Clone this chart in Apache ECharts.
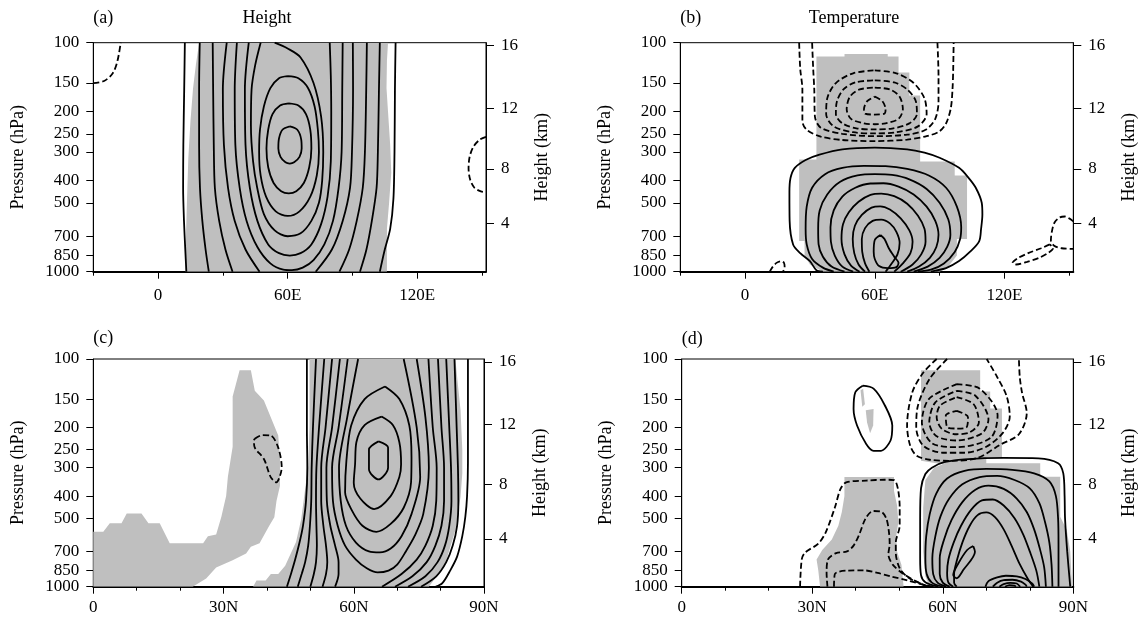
<!DOCTYPE html>
<html>
<head>
<meta charset="utf-8">
<script src="https://cdn.jsdelivr.net/npm/echarts@6/dist/echarts.min.js"></script>
<style>
html, body { margin: 0; padding: 0; background: #fff; }
#chart { width: 1139px; height: 618px; }
</style>
</head>
<body>
<div id="chart"></div>
<script>
// axis ticks / labels (pressure labels split over two overlaid axes so close ones never collide)
const pressureTicksA = [100, 200, 300, 500, 850]
const pressureTicksB = [150, 250, 400, 700, 1000]
const heightTicks = [4, 8, 12, 16]
const lonMajor = [0, 60, 120]
const lonLabels = ['0', '60E', '120E']
const lonMinor = [-30, 30, 90, 150]
const latMajor = [0, 30, 60, 90]
const latLabels = ['0', '30N', '60N', '90N']
const latMinor = [10, 20, 40, 50, 70, 80]

// (a) Height, lon-pressure  [lon, hPa]
const aShade = [
  [[19,100],[17.5,125],[16.2,158],[15,220],[14,320],[13.5,450],[13,650],[12.8,850],[12.7,1000],
   [106,1000],[106,850],[106,650],[107,500],[108,370],[107.5,280],[106.5,200],[105.8,158],[106,120],[106.5,100]]
]
const aSolid = [
  [[12.4,100],[12.1,160],[11.7,280],[11.6,430],[12,600],[12.6,800],[13.1,1000]],
  [[110,100],[109.7,160],[109.5,300],[109,480],[107.5,650],[105,800],[102.7,1000]],
  [[19.3,100],[19,160],[19,280],[19.4,430],[20.5,600],[22,800],[23.5,1000]],
  [[102.7,100],[102.3,160],[101.8,300],[101.2,430],[99,600],[96.5,800],[93.5,1000]],
  [[25.3,100],[25.5,160],[25.8,280],[26.3,430],[28.3,600],[31.2,800],[34.5,1000]],
  [[96.7,100],[96.4,160],[95.8,300],[94.8,430],[92,600],[88.5,800],[84,1000]],
  [[31.8,100],[30,160],[30.5,280],[32.4,430],[35.5,600],[40.5,800],[47,1000]],
  [[90.2,100],[90.3,160],[89.8,300],[88.9,430],[85.5,600],[80.5,800],[73,1000]],
  [[36.5,100],[35.5,160],[35.8,280],[37.8,430],[41,600],[46,780],[52,920],[58,980],[62,985],[67,960],[72,890],[77,760],[81,600],[83.6,430],[85,300],[85.3,160],[85.5,100]],
  [[42,100],[40.2,160],[40.5,280],[42.5,430],[46,600],[51,760],[56,830],[61,850],[66,830],[71,760],[75.5,620],[78.5,470],[80,330],[80.2,200],[80,140],[79.5,100]],
  [[47.5,100],[45,125],[43.3,160],[43,230],[44,330],[45.9,430],[49,560],[54,660],[60,700],[66,680],[71,600],[74.5,500],[76,400],[76.5,300],[75.5,210],[72,150],[66,116],[60,106],[54,100]],
  [[60,140],[65,143],[69.5,158],[72.5,190],[74,240],[74.5,300],[73.5,380],[70.5,470],[65.5,545],[60,571],[54.5,545],[50,470],[47.5,380],[46.8,300],[47.2,240],[49,190],[52,158],[56,143],[60,140]],
  [[60.5,184],[65,188],[68.5,205],[70.5,240],[71,290],[70,350],[67.5,410],[64,445],[60.5,455],[57,445],[53.5,410],[51,350],[50.2,290],[51,240],[53,205],[56.5,188],[60.5,184]],
  [[61,232],[64.5,240],[66.3,265],[66.5,290],[65.5,315],[63,333],[61,337],[59,333],[56.7,315],[55.7,290],[56,262],[57.6,240],[61,232]]
]
const aDashed = [
  [[-30,150],[-25,147],[-21,136],[-18.8,120],[-17.3,100]],
  [[151.875,258],[149,265],[146,285],[144.3,315],[143.8,353],[144.5,395],[146.5,430],[149.5,446],[151.875,449]]
]

// (b) Temperature, lon-pressure
const bShade = [
  [[33,115],[46,115],[46,112],[66,112],[66,115],[71,115],[71,135],[76,135],[76,170],[81,170],[81,330],[97,330],[97,380],
   [102.7,380],[102.7,720],[98,720],[98,850],[94,950],[90,1000],[36,1000],[30,930],[27.5,850],[27.5,735],[25,735],[25,324],[33,324]]
]
const bSolid = [
  [[36,1000],[33,985],[30,900],[25.5,830],[22.2,760],[20.6,600],[20.5,450],[21,390],[23,352],[28,325],[34.4,308],[45,292],[60,287],[75,292],[83,302],[90,318],[99,352],[103.5,390],[106.8,431],[109.5,500],[109.8,563],[109.2,650],[108.3,737],[104,820],[99,899],[93,965],[88,990],[86,1000]],
  [[41,1000],[36,960],[31,880],[28.5,760],[28,650],[28.5,520],[31,430],[37,375],[45,352],[55,345],[65,346],[75,356],[85,380],[93,430],[98,520],[100,640],[99.5,720],[97,820],[92,920],[86,980],[80,1000]],
  [[46,1000],[40,950],[36,860],[34,760],[33.8,650],[34.5,540],[38,460],[44,405],[52,380],[60,375],[68,378],[76,395],[84,435],[90,500],[94,590],[95,690],[93.5,780],[90,870],[84.5,950],[78,1000]],
  [[50,1000],[45,950],[41.5,850],[39.7,740],[39.5,640],[41,540],[45,470],[51,430],[58,412],[64,411],[71,425],[78,460],[84,520],[88,600],[89.5,690],[88.5,780],[85.5,870],[80.5,950],[75,1000]],
  [[53,1000],[49,940],[46,840],[44.6,720],[45.3,620],[48,550],[52.5,495],[58,462],[63,456],[69,468],[75,505],[80,570],[83,650],[83.5,740],[81.5,840],[77.5,930],[72,1000]],
  [[55.5,1000],[52.5,930],[50.5,830],[49.8,720],[50.8,630],[54,565],[58.5,525],[62.5,518],[67,535],[72,585],[76,660],[77.5,740],[76.5,830],[73,920],[69,1000]],
  [[57.5,1000],[55.5,920],[54.2,820],[54,720],[55.5,645],[59,600],[63,592],[67,615],[70,670],[71.5,750],[70.5,840],[67.5,930],[65,1000]],
  [[62.6,691],[64.5,720],[66.5,790],[69,860],[71,915],[70,955],[66,965],[62,945],[60,880],[59.5,818],[60,727],[62.6,691]]
]
const bDashed = [
  [[25,100],[25.5,130],[26.5,160],[26.5,220],[28.5,240],[35,257],[45,266],[60,269],[75,265],[84,256],[89.9,244],[93,225],[95.2,193],[96,158],[96.3,130],[96.5,100]],
  [[31,100],[31.5,130],[32,160],[32.3,210],[35,235],[45,250],[60,256],[75,252],[83.5,240],[88,215],[89.5,180],[89.5,140],[89,100]],
  [[60,132],[70,136],[78,150],[83,175],[84,205],[80,232],[70,246],[60,249],[50,246],[41,232],[37.5,205],[38,175],[42,150],[50,136],[60,132]],
  [[60,146],[69,149],[75,160],[79,180],[79.5,205],[76,225],[68,237],[60,239],[52,237],[45,225],[42,205],[42.5,180],[45.5,160],[51,149],[60,146]],
  [[60,157],[67,160],[71.5,172],[73,195],[71,215],[65,225],[60,227],[55,225],[49,215],[47,195],[48.5,172],[53,160],[60,157]],
  [[60,172],[63.5,180],[65,195],[64.5,204],[60,206],[55.5,204],[55,195],[56.5,180],[60,172]],
  [[11.4,1000],[12.5,960],[14.5,915],[16.5,900],[18,915],[18.3,960],[17.5,1000]],
  [[141,760],[137,790],[131,830],[126,875],[123.8,915],[125.5,930],[130.5,905],[136,870],[140.5,825],[142.5,790],[141,760]],
  [[151.875,603],[150,585],[148,574],[145.5,580],[143.2,610],[142,665],[141.5,730],[143,770],[146.5,790],[151.875,795]]
]

// (c) Height, lat-pressure  [lat, hPa]
const cShade = [
  [[0,574],[2.3,574],[3.8,527],[6.5,527],[7.7,477],[11.1,477],[12.7,527],[15.3,527],[17.6,645],[25.3,645],[26.4,600],[28.3,590],
   [29.5,493],[30,448],[30.6,400],[31,329],[32.1,243],[32.1,146],[33.7,112],[36.3,112],[37.2,138],[39.3,152],[42.6,217],[43,275],
   [43,360],[42.2,420],[41.7,496],[40.5,541],[39.7,577],[38.3,645],[36.3,668],[35.2,714],[32.1,765],[28.3,824],[26,920],[22.9,1000],[0,1000]],
  [[36.8,1000],[37.6,940],[39.7,940],[40.9,880],[42.6,880],[44.2,810],[46.7,637],[47.9,504],[48.7,385],[49.5,294],[49.8,196],[49.8,100],
   [83.4,100],[84,130],[84.6,168],[85,250],[85,318],[84.6,403],[83.4,565],[81.1,790],[79.5,880],[77.3,1000]]
]
const cSolid = [
  [[49.2,100],[49.2,200],[49.3,300],[49,420],[48.3,540],[47.5,640],[46.5,760],[45.6,870],[44.6,1000]],
  [[51.3,100],[50.6,200],[50.3,300],[50.2,420],[49.9,540],[49.5,660],[48.8,780],[48,880],[47.1,1000]],
  [[53.2,100],[52,200],[51.4,300],[51.3,420],[51.4,540],[51.5,660],[51.3,780],[50.8,880],[50,1000]],
  [[55,100],[53.5,200],[52.5,300],[52.5,420],[53,540],[53.6,660],[53.9,780],[53.6,880],[52.8,1000]],
  [[56.8,100],[55,200],[53.7,300],[53.8,420],[54.6,540],[55.7,660],[56.5,780],[56.5,880],[55.7,1000]],
  [[77.2,100],[78.2,200],[79.1,300],[79,420],[78.2,540],[76.5,660],[74.5,760],[71,880],[66.5,1000]],
  [[58.6,100],[56.5,200],[55,300],[55.2,420],[56.3,540],[58,660],[60.5,760],[63,830],[65.5,866],[68,850],[70,800],[72,700],[74,600],[76,480],[77.3,300],[76.5,180],[74.5,100]],
  [[61,100],[58.5,180],[56.6,300],[57,420],[58.2,540],[60.5,640],[63.5,700],[66,707],[68.5,680],[71,600],[73.3,480],[75.3,330],[74.5,200],[71.5,100]],
  [[67.2,132],[70.5,150],[72.8,196],[73.3,270],[73.2,348],[71.5,450],[68.5,530],[65.2,574],[62,540],[59.5,460],[58,385],[58.3,280],[59.4,196],[62.5,150],[67.2,132]],
  [[66.4,179],[69,195],[70.5,232],[70.9,290],[70.5,330],[68.5,400],[64.7,456],[61.5,410],[60,350],[60.3,290],[60.6,232],[62.5,195],[66.4,179]],
  [[65.7,230],[67.9,245],[67.9,300],[65.7,338],[63.5,305],[63.5,250],[65.7,230]],
  [[79.4,100],[80.2,200],[80.8,300],[80.8,420],[80.2,540],[78.8,660],[76.8,780],[73.5,900],[69.5,1000]],
  [[81.3,100],[82,200],[82.4,300],[82.5,420],[82,540],[81,660],[79.3,780],[76.5,900],[72.5,1000]],
  [[83.2,100],[83.7,200],[84,300],[84.1,420],[83.8,540],[82.8,660],[81.3,780],[79,900],[75.5,1000]],
  [[86.3,100],[86.3,200],[86.3,287],[86.1,400],[85.7,493],[85,600],[83.8,738],[82.2,850],[80.4,965],[78.9,1000]]
]
const cDashed = [
  [[37.2,224],[38.9,216],[40.9,217],[42.6,245],[43.4,299],[43,326],[42.2,348],[40.9,331],[39.3,275],[37.2,245],[37,228],[37.2,224]]
]

// (d) Temperature, lat-pressure
const dShade = [
  [[31.8,1000],[31.4,850],[31,760],[32.3,690],[34.5,620],[36,540],[36.8,470],[37.4,400],[37.4,330],[48.8,330],[48.8,380],[49.5,440],
   [49.8,520],[49.3,600],[49.5,700],[50.5,800],[51,1000]],
  [[55,112],[68.6,112],[68.6,139],[70.9,139],[70.9,165],[73.6,165],[73.6,270],[70,270],[70,287],[82.4,287],[82.4,329],[87,329],
   [87,493],[88.5,564],[89.3,700],[89.7,1000],[57,1000],[56,900],[55.5,700],[55.5,450],[56,340],[58,300],[60,290],[55,280]],
  [[41.1,137],[41.7,135],[42.1,158],[41.5,162]],
  [[42.3,168],[44.1,166],[44,196],[43.3,212],[42.6,190]]
]
const dSolid = [
  [[41.6,131],[44.1,135],[46.7,160],[48.4,196],[48,228],[45.8,253],[44.1,253],[42.4,236],[40.3,196],[39.5,166],[39.9,140],[41.6,131]],
  [[59,1000],[56,955],[55,890],[54.8,750],[54.8,500],[55,370],[56,320],[57.5,300],[60.3,284],[65,276],[74,272],[82,273],[86.5,287],[87.7,318],[88,400],[88.1,500],[88.6,700],[89.3,1000]],
  [[60,1000],[57.5,960],[56.3,880],[56,750],[56.2,600],[57,480],[58.5,390],[61,335],[65,310],[70,304],[76,307],[81,318],[84.5,345],[86,400],[86.5,500],[86.6,650],[86.6,800],[86.6,1000]],
  [[60.8,1000],[58.8,960],[57.8,880],[57.6,750],[58.3,600],[59.5,490],[61.5,410],[64.5,355],[68.5,330],[72.5,326],[76.5,340],[80,370],[82.2,430],[83.5,520],[84.5,640],[85,800],[85.2,1000]],
  [[61.6,1000],[60,960],[59.3,880],[59.3,750],[60.3,620],[62,510],[64.5,425],[67.5,375],[70.5,360],[74,372],[77,410],[79.3,470],[81,560],[82.3,680],[83.3,820],[83.7,1000]],
  [[62.4,1000],[61.3,960],[61,870],[61.3,760],[62.5,640],[64.2,540],[66.5,460],[69,418],[71.5,414],[74,440],[76.5,500],[78.5,590],[80,700],[81.5,850],[82.2,1000]],
  [[63.2,1000],[62.6,960],[62.6,880],[63.3,760],[64.5,640],[66.2,540],[68,485],[70,472],[72,495],[74,560],[75.8,660],[77.6,790],[79.5,920],[80.8,1000]],
  [[67,663],[67.4,702],[64.7,845],[63.2,918],[62.4,889],[63.6,789],[65.6,690],[67,663]],
  [[69.8,1000],[70.5,945],[72.5,910],[74.5,895],[77,900],[79,925],[80.6,970],[81,1000]],
  [[71.5,1000],[72.5,960],[74,935],[76,932],[78,950],[79,980],[79.3,1000]],
  [[73,1000],[74,975],[75.5,962],[77,968],[77.8,1000]],
  [[74.3,1000],[75.3,985],[76.5,990],[76.8,1000]]
]
const dDashed = [
  [[63.2,169],[65.8,180],[65.4,200],[63.2,202],[61.1,200],[60.7,177],[63.2,169]],
  [[63.2,147],[67.1,158],[68.3,190],[66.2,210],[63.2,214],[59.8,203],[58.6,180],[59.4,160],[63.2,147]],
  [[63.2,138],[67.5,145],[70.5,184],[69,212],[63.2,228],[58.5,218],[56.9,190],[58.3,155],[63.2,138]],
  [[63.2,129],[68.5,135],[72.6,177],[71,222],[63.2,244],[57.5,234],[55.2,190],[56.8,150],[63.2,129]],
  [[61,100],[57,122],[54.3,160],[53.9,200],[55.5,240],[60,258],[65,258],[70,243],[73.9,210],[75.4,179],[74.7,146],[72.5,120],[70.1,100]],
  [[58.6,100],[55.5,115],[53,140],[51.8,196],[52.5,240],[54,266],[57,277],[62,280],[68,272],[73.2,238],[77.5,214],[79.3,173],[78.2,140],[77.7,120],[77.5,100]],
  [[27.2,1000],[27.6,757],[28.4,707],[31.4,647],[33.1,577],[35.2,449],[36.5,372],[37.8,348],[42.4,342],[46.7,339],[48.8,340],[49.7,372],[50.1,450],[50.1,540],[49.2,640],[49.2,707],[50.1,830],[52,910],[55,970],[57,1000]],
  [[33.5,1000],[33.3,870],[33.6,760],[35.5,712],[38,700],[39.5,660],[40.8,590],[42.3,500],[44,465],[45.8,468],[47,500],[47.6,570],[47.8,650],[47.5,720],[48.5,800],[51,880],[54,950],[56.5,1000]],
  [[35,1000],[35.2,880],[38,850],[42,848],[45,870],[48,900],[52,940],[56,985],[58,1000]]
]

// standard atmosphere: height (km) -> pressure (hPa), used for the right axis ticks
function heightToPressure(km) {
  const h = km * 1000
  if (h <= 11000) return 1013.25 * Math.pow(1 - 2.25577e-5 * h, 5.25588)
  return 226.32 * Math.exp(-(h - 11000) / 6341.6)
}
const heightLog = heightTicks.map(k => Math.log10(heightToPressure(k)))

const FONT = 'Liberation Serif'
const FS = 17      // tick labels
const FS_NAME = 18 // titles and axis names

const panels = [
  { box: { left: 93.3, top: 42.7, width: 392.7, height: 229 }, xmin: -30, xmax: 151.875, major: lonMajor, labels: lonLabels, minor: lonMinor, labelMargin: 15, shade: aShade, solid: aSolid, dashed: aDashed },
  { box: { left: 680.3, top: 42.7, width: 393, height: 229 }, xmin: -30, xmax: 151.875, major: lonMajor, labels: lonLabels, minor: lonMinor, labelMargin: 15, shade: bShade, solid: bSolid, dashed: bDashed },
  { box: { left: 93.3, top: 359, width: 390.7, height: 227.7 }, xmin: 0, xmax: 90, major: latMajor, labels: latLabels, minor: latMinor, labelMargin: 12, shade: cShade, solid: cSolid, dashed: cDashed },
  { box: { left: 681.7, top: 359, width: 391.6, height: 227.7 }, xmin: 0, xmax: 90, major: latMajor, labels: latLabels, minor: latMinor, labelMargin: 12, shade: dShade, solid: dSolid, dashed: dDashed }
]

const labelStyle = { fontFamily: FONT, fontSize: FS, color: '#000', showMinLabel: true, showMaxLabel: true, hideOverlap: false }
const grid = [], xAxis = [], yAxis = [], series = [], graphic = []
const Y_PER_GRID = 4

const pressureAxis = (gi, ticks, showLine) => ({
  gridIndex: gi, type: 'value', min: 2, max: 3, inverse: true, position: 'left',
  axisLine: { show: showLine, onZero: false, lineStyle: { color: '#000', width: 1 } },
  axisTick: { show: true, customValues: ticks.map(p => Math.log10(p)), length: 7, lineStyle: { color: '#000' } },
  axisLabel: { ...labelStyle, customValues: ticks.map(p => Math.log10(p)), margin: 14,
    formatter: v => String(Math.round(Math.pow(10, v))) },
  splitLine: { show: false }
})

panels.forEach((pn, gi) => {
  grid.push({ ...pn.box, show: true, borderColor: '#000', borderWidth: 1, backgroundColor: 'transparent' })

  xAxis.push({
    gridIndex: gi, type: 'value', min: pn.xmin, max: pn.xmax, position: 'bottom',
    axisLine: { show: true, onZero: false, lineStyle: { color: '#000', width: 2 } },
    axisTick: { show: true, customValues: pn.major, length: 7, lineStyle: { color: '#000' } },
    axisLabel: { ...labelStyle, customValues: pn.major, margin: pn.labelMargin,
      formatter: v => pn.labels[pn.major.indexOf(Math.round(v))] },
    splitLine: { show: false }
  })
  xAxis.push({
    gridIndex: gi, type: 'value', min: pn.xmin, max: pn.xmax, position: 'bottom',
    axisLine: { show: false, onZero: false },
    axisTick: { show: true, customValues: pn.minor, length: 4, lineStyle: { color: '#000' } },
    axisLabel: { show: false }, splitLine: { show: false }
  })

  // data axis (log pressure), hidden
  yAxis.push({
    gridIndex: gi, type: 'log', logBase: 10, min: 100, max: 1000, inverse: true, show: false
  })
  // left tick axes in log10(hPa)
  yAxis.push(pressureAxis(gi, pressureTicksA, true))
  yAxis.push(pressureAxis(gi, pressureTicksB, false))
  // right height axis
  yAxis.push({
    gridIndex: gi, type: 'value', min: 2, max: 3, inverse: true, position: 'right',
    axisLine: { show: true, onZero: false, lineStyle: { color: '#000', width: 1 } },
    axisTick: { show: true, customValues: heightLog, length: 8, lineStyle: { color: '#000' } },
    axisLabel: { ...labelStyle, customValues: heightLog, margin: 15,
      formatter: v => {
        let best = 0
        heightLog.forEach((h, i) => { if (Math.abs(h - v) < Math.abs(heightLog[best] - v)) best = i })
        return String(heightTicks[best])
      } },
    splitLine: { show: false }
  })

  pn.shade.forEach(poly => {
    series.push({
      type: 'custom', xAxisIndex: gi * 2, yAxisIndex: gi * Y_PER_GRID, clip: true, silent: true, z: 1,
      data: [poly[0]],
      renderItem: (params, api) => ({
        type: 'polygon',
        shape: { points: poly.map(pt => api.coord(pt)) },
        style: { fill: '#bfbfbf', stroke: null }
      })
    })
  })

  const addLines = (list, dashed) => list.forEach(pts => {
    series.push({
      type: 'line', xAxisIndex: gi * 2, yAxisIndex: gi * Y_PER_GRID, data: pts,
      symbol: 'none', showSymbol: false, smooth: 0.3, silent: true, clip: true, z: 3,
      lineStyle: { color: '#000', width: 1.8, type: dashed ? [6, 3] : 'solid' }
    })
  })
  addLines(pn.solid, false)
  addLines(pn.dashed, true)

  const b = pn.box
  const midY = b.top + b.height / 2
  graphic.push({ type: 'text', x: b.left - 75, y: midY, rotation: Math.PI / 2,
    style: { text: 'Pressure (hPa)', font: FS_NAME + 'px "' + FONT + '"', fill: '#000', align: 'center', verticalAlign: 'middle' } })
  graphic.push({ type: 'text', x: b.left + b.width + 56, y: midY, rotation: Math.PI / 2,
    style: { text: 'Height (km)', font: FS_NAME + 'px "' + FONT + '"', fill: '#000', align: 'center', verticalAlign: 'middle' } })
})

const titles = [
  { text: '(a)', x: 93.3, y: 18.5, align: 'left' },
  { text: 'Height', x: 267, y: 18.5, align: 'center' },
  { text: '(b)', x: 680.3, y: 18.5, align: 'left' },
  { text: 'Temperature', x: 854, y: 18.5, align: 'center' },
  { text: '(c)', x: 93.3, y: 338.5, align: 'left' },
  { text: '(d)', x: 681.7, y: 339.5, align: 'left' }
]
titles.forEach(t => graphic.push({ type: 'text', x: t.x, y: t.y,
  style: { text: t.text, font: FS_NAME + 'px "' + FONT + '"', fill: '#000', align: t.align, verticalAlign: 'middle' } }))

const chart = echarts.init(document.getElementById('chart'), null, { renderer: 'canvas' })
chart.setOption({
  animation: false,
  backgroundColor: '#fff',
  textStyle: { fontFamily: FONT },
  grid, xAxis, yAxis, series, graphic
})
</script>
</body>
</html>
